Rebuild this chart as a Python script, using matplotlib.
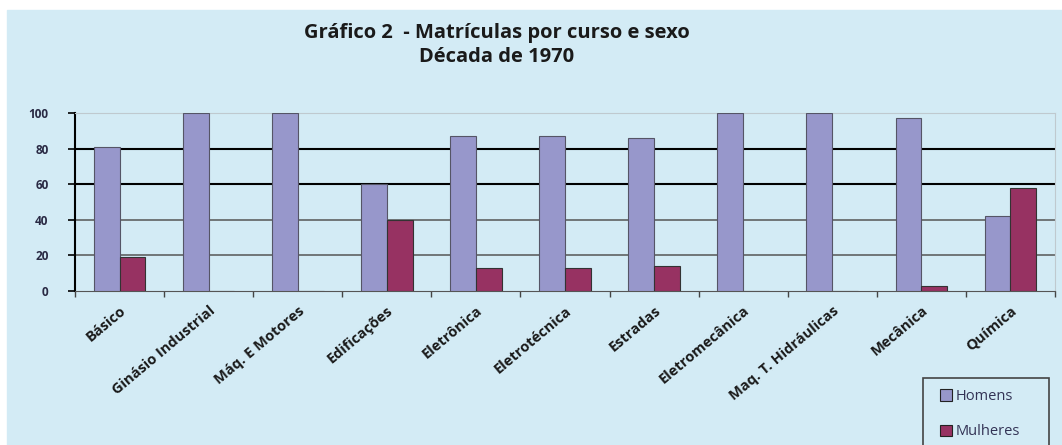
"""Gráfico 2 - matrículas por curso e sexo, década de 1970."""
import matplotlib

matplotlib.use("Agg")
import matplotlib.pyplot as plt
import numpy as np
from matplotlib.patches import Rectangle

cursos = [
    "Básico", "Ginásio Industrial", "Máq. E Motores", "Edificações",
    "Eletrônica", "Eletrotécnica", "Estradas", "Eletromecânica",
    "Maq. T. Hidráulicas", "Mecânica", "Química",
]
homens = [81, 100, 100, 60, 87, 87, 86, 100, 100, 97, 42]
mulheres = [19, 0, 0, 40, 13, 13, 14, 0, 0, 3, 58]
y_ticks = [0, 20, 40, 60, 80, 100]

BG = "#d3ebf5"
COR_H = "#9797cb"
COR_M = "#973262"

plt.rcParams["font.family"] = ["Open Sans", "DejaVu Sans"]

W, H = 1062, 445
fig = plt.figure(figsize=(W / 100, H / 100), dpi=100)
# white strip left/top, light blue panel for the rest
fig.patches.append(Rectangle((7 / W, 0), 1, 1 - 10 / H,
                             transform=fig.transFigure, color=BG, zorder=-10))

ax = fig.add_axes([75 / W, 1 - 291 / H, 980 / W, 178 / H])
ax.set_facecolor(BG)

x = np.arange(len(cursos))
w = 0.29
ax.bar(x - w / 2, homens, w, color=COR_H, edgecolor="#555566", linewidth=0.8,
       label="Homens", zorder=3)
ax.bar(x + w / 2, mulheres, w, color=COR_M, edgecolor="#333333", linewidth=0.8,
       label="Mulheres", zorder=3)

ax.set_xlim(-0.5, len(cursos) - 0.5)
ax.set_ylim(0, 100)

# scanned look: two heavy gridlines, the rest lighter
for v in y_ticks[1:]:
    if v in (60, 80):
        ax.axhline(v, color="black", lw=1.5, zorder=1)
    elif v == 100:
        ax.axhline(v, color="#bfc9cf", lw=1.2, zorder=1)
    else:
        ax.axhline(v, color="#555555", lw=1.1, zorder=1)

ax.set_yticks(y_ticks)
ax.set_yticklabels([str(v) for v in y_ticks], fontsize=8.5, fontweight="bold",
                   color="#2a2a44")
ax.tick_params(axis="y", direction="out", length=5, width=1.2, pad=14)

ax.set_xticks(x)
ax.set_xticklabels(cursos, rotation=40, ha="right", rotation_mode="anchor",
                   fontsize=10.5, fontweight="bold", color="#1a1a1a")
ax.tick_params(axis="x", length=0, pad=9)
ax.set_xticks(np.arange(len(cursos) + 1) - 0.5, minor=True)
ax.tick_params(axis="x", which="minor", direction="out", length=4,
               width=1, color="#444444")

ax.spines["left"].set_linewidth(1.5)
ax.spines["left"].set_color("black")
ax.spines["bottom"].set_color("#555555")
ax.spines["top"].set_color("#bfc9cf")
ax.spines["right"].set_color("#bfc9cf")

fig.text(497 / W, 1 - 33 / H, "Gráfico 2  - Matrículas por curso e sexo",
         ha="center", va="center", fontsize=14.5, fontweight="bold", color="#1a1a1a")
fig.text(497 / W, 1 - 57 / H, "Década de 1970",
         ha="center", va="center", fontsize=14.5, fontweight="bold", color="#1a1a1a")

# legend box runs off the bottom edge in the original
fig.patches.append(Rectangle((923 / W, -10 / H), 126 / W, (445 - 378 + 10) / H,
                             transform=fig.transFigure, facecolor="none",
                             edgecolor="#444444", linewidth=1.2, zorder=5))
leg = fig.legend(loc="upper left", bbox_to_anchor=(940 / W, 1 - 389 / H),
                 fontsize=10.5, frameon=False, handlelength=0.8,
                 handleheight=0.8, handletextpad=0.3, labelspacing=1.4,
                 borderpad=0, borderaxespad=0)
for t in leg.get_texts():
    t.set_color("#333355")
for h in leg.legend_handles:
    h.set_edgecolor("#222222")

fig.savefig("out.png", dpi=100)
